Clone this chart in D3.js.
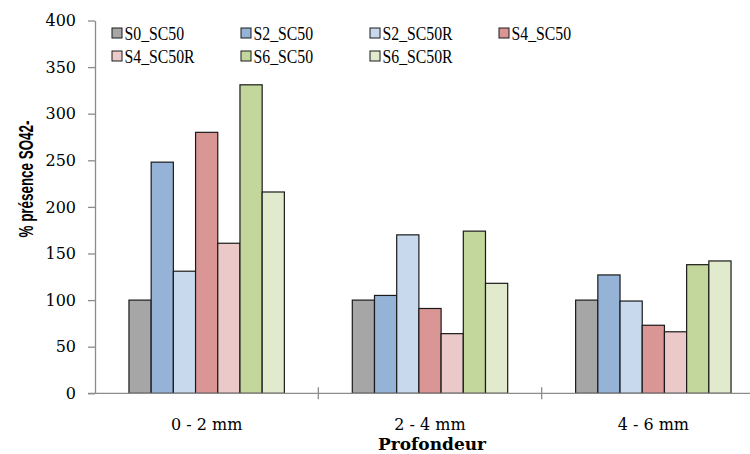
<!DOCTYPE html>
<html>
<head>
<meta charset="utf-8">
<script src="https://cdn.jsdelivr.net/npm/d3@7"></script>
<style>
  html, body { margin: 0; padding: 0; background: #fff; overflow: hidden; }
  svg { display: block; }
</style>
</head>
<body>
<svg id="chart" width="750" height="454"></svg>
<script>
// ---- data ----
const categories = ["0 - 2 mm", "2 - 4 mm", "4 - 6 mm"];
const seriesNames = ["S0_SC50", "S2_SC50", "S2_SC50R", "S4_SC50", "S4_SC50R", "S6_SC50", "S6_SC50R"];
const S0_SC50  = [100, 100, 100];
const S2_SC50  = [248, 105, 127];
const S2_SC50R = [131, 170, 99];
const S4_SC50  = [280, 91, 73];
const S4_SC50R = [161, 64, 66];
const S6_SC50  = [331, 174, 138];
const S6_SC50R = [216, 118, 142];
const yTicks = [0, 50, 100, 150, 200, 250, 300, 350, 400];
const yTitle = "% présence SO42-";
const xTitle = "Profondeur";

const seriesValues = [S0_SC50, S2_SC50, S2_SC50R, S4_SC50, S4_SC50R, S6_SC50, S6_SC50R];
const colors = ["#a6a6a6", "#95b3d7", "#c9d9ed", "#d99694", "#ecc9c9", "#c3d69b", "#e1eacd"];

const svg = d3.select("#chart");
const axisColor = "#8c8c8c";
const mLeft = 95, mRight = 765, mTop = 20.5, mBottom = 393.3;

const x0 = d3.scaleBand().domain(categories).range([mLeft, mRight]).paddingInner(0).paddingOuter(0);
const x1 = d3.scaleBand().domain(seriesNames).range([0, x0.bandwidth()]).paddingInner(0).paddingOuter(1.53);
const y = d3.scaleLinear().domain([0, 400]).range([mBottom, mTop]);

// y axis
const yAxis = svg.append("g")
  .attr("transform", `translate(${mLeft},0)`)
  .call(d3.axisLeft(y).tickValues(yTicks).tickSize(7).tickPadding(12).tickSizeOuter(0));
yAxis.select(".domain").attr("stroke", axisColor).attr("stroke-width", 1.3);
yAxis.selectAll(".tick line").attr("stroke", axisColor).attr("stroke-width", 1.3);
yAxis.selectAll(".tick text")
  .attr("font-family", "DejaVu Serif")
  .attr("font-size", 16)
  .attr("fill", "#000");

// bars
const groups = svg.append("g").selectAll("g")
  .data(categories)
  .join("g")
  .attr("transform", d => `translate(${x0(d)},0)`);

groups.selectAll("rect")
  .data((c, ci) => seriesNames.map((s, si) => ({ s, si, v: seriesValues[si][ci] })))
  .join("rect")
  .attr("x", d => x1(d.s))
  .attr("y", d => y(d.v))
  .attr("width", x1.bandwidth())
  .attr("height", d => y(0) - y(d.v))
  .attr("fill", d => colors[d.si])
  .attr("stroke", "#1a1a1a")
  .attr("stroke-width", 1.2);

// x axis
const xAxis = svg.append("g")
  .attr("transform", `translate(0,${mBottom})`)
  .call(d3.axisBottom(x0).tickSize(0).tickPadding(0).tickSizeOuter(0));
xAxis.select(".domain").remove();
xAxis.append("line")
  .attr("x1", mLeft - 7).attr("x2", mRight)
  .attr("y1", 0).attr("y2", 0)
  .attr("stroke", axisColor).attr("stroke-width", 1.3);
xAxis.selectAll(".tick text")
  .attr("font-family", "DejaVu Serif")
  .attr("font-size", 16)
  .attr("fill", "#000")
  .attr("dy", null)
  .attr("y", 37);
// cross tick marks between categories
xAxis.selectAll(".sep")
  .data(categories.slice(1))
  .join("line")
  .attr("class", "sep")
  .attr("x1", d => x0(d)).attr("x2", d => x0(d))
  .attr("y1", -6).attr("y2", 6)
  .attr("stroke", axisColor).attr("stroke-width", 1.3);

// axis titles
svg.append("text")
  .attr("x", 432)
  .attr("y", 450)
  .attr("text-anchor", "middle")
  .attr("font-family", "DejaVu Serif")
  .attr("font-weight", "bold")
  .attr("font-size", 17)
  .text(xTitle);

svg.append("text")
  .attr("transform", "translate(33,179) rotate(-90)")
  .attr("text-anchor", "middle")
  .attr("font-family", "Liberation Sans, Arial, sans-serif")
  .attr("font-weight", "bold")
  .attr("font-size", 20)
  .attr("textLength", 117)
  .attr("lengthAdjust", "spacingAndGlyphs")
  .text(yTitle);

// legend
const legX = d3.scalePoint().domain([0, 1, 2, 3]).range([112, 499]);
const legY = d3.scalePoint().domain([0, 1]).range([33, 56]);
const leg = svg.append("g").selectAll("g")
  .data(seriesNames)
  .join("g")
  .attr("transform", (d, i) => `translate(${legX(i % 4)},${legY(Math.floor(i / 4))})`);
leg.append("rect")
  .attr("x", 0).attr("y", -5)
  .attr("width", 10).attr("height", 10)
  .attr("fill", (d, i) => colors[i])
  .attr("stroke", "#1a1a1a").attr("stroke-width", 1);
leg.append("text")
  .attr("x", 12.5).attr("y", 6.5)
  .attr("font-family", "Liberation Serif")
  .attr("font-size", 19)
  .attr("fill", "#000")
  .text(d => d)
  .each(function() {
    const w = this.getComputedTextLength();
    d3.select(this).attr("textLength", w * 0.83).attr("lengthAdjust", "spacingAndGlyphs");
  });
</script>
</body>
</html>
